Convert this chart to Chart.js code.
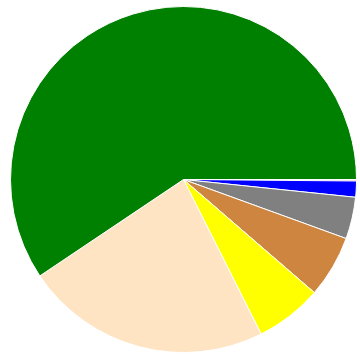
<!DOCTYPE html>
<html>
<head>
<meta charset="utf-8">
<script src="https://cdn.jsdelivr.net/npm/chart.js@4/dist/chart.umd.min.js"></script>
<style>
  html, body { margin: 0; padding: 0; background: #fff; }
  #wrap { position: absolute; left: 0; top: 0; width: 360px; height: 360px; }
</style>
</head>
<body>
<div id="wrap"><canvas id="pie" width="360" height="360"></canvas></div>
<script>
'use strict';
// slice names, values (percent share) and colours
var categories = ['A', 'B', 'C', 'D', 'E', 'F', 'G'];
var shares = [0.14, 1.5, 3.9, 5.8, 6.25, 23.0, 59.4];
var sliceColors = ['salmon', 'blue', 'gray', 'peru', 'yellow', 'bisque', 'green'];

var ctx = document.getElementById('pie').getContext('2d');
var chart = new Chart(ctx, {
    type: 'pie',
    data: {
        labels: categories,
        datasets: [{
            data: shares,
            backgroundColor: sliceColors,
            borderColor: '#fff',
            borderWidth: 1
        }]
    },
    options: {
        responsive: false,
        animation: false,
        rotation: 90,
        layout: { padding: { left: 10, right: 3, top: 6, bottom: 7 } },
        plugins: {
            legend: { display: false },
            tooltip: { enabled: false }
        }
    }
});
</script>
</body>
</html>
